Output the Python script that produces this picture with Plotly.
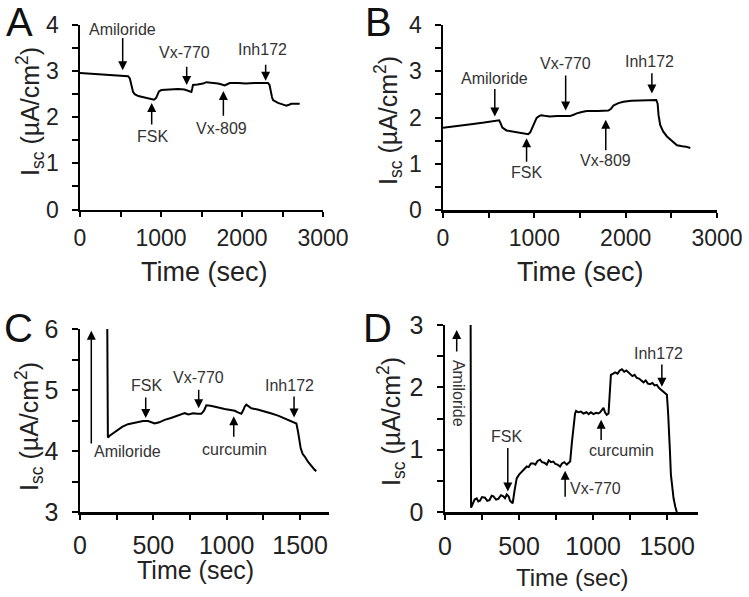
import plotly.graph_objects as go

# ---------------- data ----------------
A_t = [0, 100, 222, 350, 450, 552, 593, 615, 634, 655, 675, 720, 798, 860, 914, 940, 955, 975, 1004, 1100,
       1210, 1290, 1333, 1375, 1385, 1395, 1450, 1519, 1560, 1620, 1704, 1750, 1786, 1810, 1848, 1950,
       2050, 2150, 2280, 2321, 2340, 2354, 2370, 2383, 2444, 2500, 2547, 2580, 2609, 2660, 2712]
A_v = [2.96, 2.95, 2.93, 2.92, 2.91, 2.90, 2.89, 2.84, 2.68, 2.55, 2.50, 2.46, 2.43, 2.41, 2.38, 2.42, 2.48, 2.56, 2.59, 2.60,
       2.61, 2.60, 2.58, 2.55, 2.62, 2.70, 2.71, 2.73, 2.76, 2.75, 2.73, 2.71, 2.69, 2.71, 2.74, 2.74,
       2.73, 2.74, 2.73, 2.74, 2.70, 2.55, 2.44, 2.37, 2.31, 2.28, 2.25, 2.27, 2.29, 2.29, 2.29]

B_t = [0, 100, 200, 329, 450, 586, 615, 630, 650, 695, 750, 805, 880, 933, 955, 975, 1000, 1025, 1060, 1080,
       1130, 1171, 1250, 1390, 1430, 1464, 1520, 1574, 1700, 1811, 1840, 1866, 1920, 1976, 2060, 2159,
       2250, 2335, 2350, 2360, 2378, 2410, 2452, 2500, 2562, 2620, 2660, 2708]
B_v = [1.78, 1.80, 1.82, 1.86, 1.89, 1.94, 1.94, 1.88, 1.78, 1.72, 1.70, 1.67, 1.65, 1.64, 1.68, 1.78, 1.90, 1.99, 2.04, 2.05,
       2.03, 2.02, 2.03, 2.03, 2.06, 2.09, 2.12, 2.14, 2.14, 2.15, 2.19, 2.26, 2.31, 2.34, 2.36, 2.37,
       2.38, 2.38, 2.30, 2.05, 1.84, 1.70, 1.59, 1.50, 1.40, 1.38, 1.37, 1.34]

C_t = [186, 190, 202, 230, 259, 290, 327, 360, 395, 430, 464, 490, 509, 540, 577, 620, 668, 700, 714, 740,
       770, 800, 827, 845, 861, 890, 918, 950, 986, 1020, 1055, 1080, 1100, 1115, 1123, 1134, 1150, 1168,
       1210, 1259, 1300, 1350, 1390, 1418, 1450, 1475, 1486, 1504, 1518, 1532, 1555, 1577, 1600, 1611]
C_v = [6.0, 4.22, 4.25, 4.30, 4.35, 4.40, 4.44, 4.46, 4.48, 4.49, 4.49, 4.47, 4.45, 4.47, 4.51, 4.54, 4.58, 4.61, 4.62, 4.60,
       4.62, 4.61, 4.61, 4.66, 4.75, 4.74, 4.73, 4.71, 4.69, 4.68, 4.66, 4.63, 4.61, 4.68, 4.73, 4.76, 4.73, 4.70,
       4.68, 4.65, 4.62, 4.58, 4.54, 4.51, 4.48, 4.45, 4.32, 4.05, 3.95, 3.91, 3.82, 3.75, 3.69, 3.67]

D_t = [173, 176, 185, 200, 214, 225, 236, 250, 270, 285, 300, 315, 327, 345, 360, 378, 394, 405, 417, 430,
       439, 457, 470, 484, 500, 518, 535, 552, 565, 580, 597, 610, 625, 642, 655, 670, 687, 700, 715, 732,
       745, 760, 777, 790, 805, 822, 835, 845, 856, 867, 878, 885, 900, 918, 935, 955, 970, 985, 1002, 1020,
       1035, 1047, 1062, 1070, 1080, 1092, 1104, 1110, 1120, 1135, 1149, 1165, 1180, 1194, 1210, 1225, 1240,
       1250, 1265, 1280, 1295, 1310, 1325, 1340, 1355, 1370, 1385, 1400, 1415, 1430, 1445, 1460, 1475, 1490,
       1498, 1506, 1511, 1518, 1525, 1535, 1543, 1555, 1565]
D_v = [3.0, 0.07, 0.12, 0.20, 0.22, 0.17, 0.18, 0.24, 0.23, 0.18, 0.19, 0.26, 0.25, 0.20, 0.21, 0.27, 0.25, 0.22, 0.28, 0.25,
       0.18, 0.14, 0.35, 0.54, 0.60, 0.65, 0.70, 0.73, 0.72, 0.78, 0.78, 0.76, 0.82, 0.84, 0.80, 0.79, 0.76, 0.83, 0.80, 0.81,
       0.77, 0.76, 0.73, 0.78, 0.80, 0.76, 0.79, 0.81, 1.10, 1.40, 1.58, 1.62, 1.60, 1.61, 1.58, 1.60, 1.57, 1.60, 1.57, 1.59,
       1.58, 1.60, 1.65, 1.67, 1.60, 1.56, 1.58, 1.90, 2.20, 2.22, 2.24, 2.22, 2.27, 2.29, 2.25, 2.27, 2.24,
       2.22, 2.18, 2.20, 2.15, 2.14, 2.11, 2.08, 2.11, 2.06, 2.05, 2.07, 2.03, 2.04, 1.99, 1.96, 1.94, 1.90,
       1.88, 1.60, 1.40, 1.00, 0.60, 0.35, 0.22, 0.08, 0.0]

panel_letters = ["A", "B", "C", "D"]
x_title = "Time (sec)"
y_title = "I<sub>sc</sub> (µA/cm<sup>2</sup>)"

# event labels: (text, text_t, text_v, arrow_t, tail_v, head_v)
A_events = [("Amiloride", 521, 3.90, 527, 3.75, 3.02),
            ("FSK", 893, 1.58, 885, 1.81, 2.31),
            ("Vx-770", 1284, 3.40, 1317, 3.13, 2.70),
            ("Vx-809", 1749, 1.76, 1770, 2.00, 2.57),
            ("Inh172", 2251, 3.46, 2292, 3.17, 2.79)]
B_events = [("Amiloride", 567, 2.85, 567, 2.65, 2.02),
            ("FSK", 915, 0.82, 915, 1.01, 1.55),
            ("Vx-770", 1340, 3.17, 1343, 2.94, 2.15),
            ("Vx-809", 1775, 1.08, 1782, 1.26, 1.95),
            ("Inh172", 2258, 3.21, 2287, 2.99, 2.52)]
C_events = [("Amiloride", 327, 3.99, 77, 4.10, 5.97),
            ("FSK", 452, 5.07, 448, 4.90, 4.54),
            ("Vx-770", 810, 5.20, 809, 5.03, 4.70),
            ("curcumin", 1055, 4.02, 1048, 4.21, 4.57),
            ("Inh172", 1430, 5.08, 1459, 4.92, 4.55)]
D_events = [("FSK", 417, 1.21, 424, 1.05, 0.33),
            ("Vx-770", 1014, 0.37, 811, 0.22, 0.66),
            ("curcumin", 1194, 0.98, 1054, 1.13, 1.48),
            ("Inh172", 1441, 2.54, 1464, 2.39, 2.01)]
D_amiloride = ("Amiloride", 88, 1.91, 79, 2.55, 2.92)

# ---------------- layout helpers ----------------
W, H = 749, 597
FONT = "Liberation Sans, Arial, sans-serif"


def px(x):
    return x / W


def py(y):
    return 1 - y / H


panels = [
    dict(t=A_t, v=A_v, xd=(80, 323), yd=(209.5, 25), xr=[0, 3000], yr=[0, 4], xdt=1000, xmn=500, tf=23, xs=1),
    dict(t=B_t, v=B_v, xd=(443, 717), yd=(210, 25), xr=[0, 3000], yr=[0, 4], xdt=1000, xmn=500, tf=23, xs=1),
    dict(t=C_t, v=C_v, xd=(80, 329.4), yd=(512, 329), xr=[0, 1700], yr=[3, 6], xdt=500, xmn=250, tf=25, xs=4),
    dict(t=D_t, v=D_v, xd=(445, 698.3), yd=(512, 325), xr=[0, 1710], yr=[0, 3], xdt=500, xmn=250, tf=25, xs=5),
]

fig = go.Figure()
layout = dict(width=W, height=H, template="none",
              margin=dict(l=0, r=0, t=0, b=0, pad=0, autoexpand=False),
              paper_bgcolor="white", plot_bgcolor="white", showlegend=False,
              font=dict(family=FONT, color="#222"))

for i, p in enumerate(panels):
    n = "" if i == 0 else str(i + 1)
    fig.add_trace(go.Scatter(x=p["t"], y=p["v"], mode="lines",
                             line=dict(color="black", width=2),
                             xaxis="x" + n, yaxis="y" + n, hoverinfo="skip"))
    layout["xaxis" + n] = dict(domain=[px(p["xd"][0]), px(p["xd"][1])], range=p["xr"],
                               anchor="y" + n, automargin=False,
                               showline=True, linecolor="black", linewidth=2.5,
                               showgrid=False, zeroline=False, ticks="outside", ticklen=5,
                               tickwidth=2, tickcolor="black", dtick=p["xdt"], tick0=0,
                               minor=dict(ticks="outside", dtick=p["xmn"], ticklen=5, tickwidth=2,
                                          tickcolor="black", showgrid=False),
                               tickfont=dict(size=p["tf"], family=FONT, color="#222"),
                               ticklabelstandoff=p["xs"])
    layout["yaxis" + n] = dict(domain=[py(p["yd"][0]), py(p["yd"][1])], range=p["yr"],
                               anchor="x" + n, automargin=False,
                               showline=True, linecolor="black", linewidth=2.5,
                               showgrid=False, zeroline=False, ticks="outside", ticklen=6,
                               tickwidth=2, tickcolor="black", dtick=1, tick0=0,
                               minor=dict(ticks="outside", dtick=0.5, ticklen=6, tickwidth=2,
                                          tickcolor="black", showgrid=False),
                               tickfont=dict(size=p["tf"], family=FONT, color="#222"),
                               ticklabelstandoff=8)

annotations = []

letter_pos = [(19, 22), (379, 22), (18, 328), (378, 328)]
xtitle_pos = [(204, 272, 27), (580, 272, 27), (196, 570, 25), (572, 577, 24)]
ytitle_pos = [(30, 112, 25), (388, 121, 25), (29, 427, 25), (391, 422, 25)]
for k in range(4):
    annotations.append(dict(text=panel_letters[k], x=px(letter_pos[k][0]), y=py(letter_pos[k][1]),
                            xref="paper", yref="paper", showarrow=False,
                            font=dict(size=40, family=FONT, color="#111"),
                            xanchor="center", yanchor="middle"))
    annotations.append(dict(text=x_title, x=px(xtitle_pos[k][0]), y=py(xtitle_pos[k][1]),
                            xref="paper", yref="paper", showarrow=False,
                            font=dict(size=xtitle_pos[k][2], family=FONT, color="#222"),
                            xanchor="center", yanchor="middle"))
    annotations.append(dict(text=y_title, x=px(ytitle_pos[k][0]), y=py(ytitle_pos[k][1]),
                            xref="paper", yref="paper", showarrow=False, textangle=-90,
                            font=dict(size=ytitle_pos[k][2], family=FONT, color="#222"),
                            xanchor="center", yanchor="middle"))

ev_sets = [A_events, B_events, C_events, D_events]
for i, evs in enumerate(ev_sets):
    n = "" if i == 0 else str(i + 1)
    xr, yr = "x" + n, "y" + n
    for (txt, tt, tv, at, tail, head) in evs:
        annotations.append(dict(text=txt, x=tt, y=tv, xref=xr, yref=yr, showarrow=False,
                                font=dict(size=16, family=FONT, color="#333"),
                                xanchor="center", yanchor="middle"))
        annotations.append(dict(text="", x=at, y=head, ax=at, ay=tail, xref=xr, yref=yr,
                                axref=xr, ayref=yr, showarrow=True, arrowhead=2, arrowsize=1.2,
                                arrowwidth=1.5, arrowcolor="black", standoff=0, startstandoff=0))

txt, tt, tv, at, tail, head = D_amiloride
annotations.append(dict(text=txt, x=tt, y=tv, xref="x4", yref="y4", showarrow=False, textangle=90,
                        font=dict(size=16, family=FONT, color="#333"),
                        xanchor="center", yanchor="middle"))
annotations.append(dict(text="", x=at, y=head, ax=at, ay=tail, xref="x4", yref="y4",
                        axref="x4", ayref="y4", showarrow=True, arrowhead=2, arrowsize=1.2,
                        arrowwidth=1.5, arrowcolor="black", standoff=0, startstandoff=0))

layout["annotations"] = annotations
fig.update_layout(**layout)
fig.write_html("out.html",
               config={"displayModeBar": False, "staticPlot": True},
               post_script="document.body.style.margin='0';document.body.style.padding='0';"
                           "document.body.style.overflow='hidden';")
